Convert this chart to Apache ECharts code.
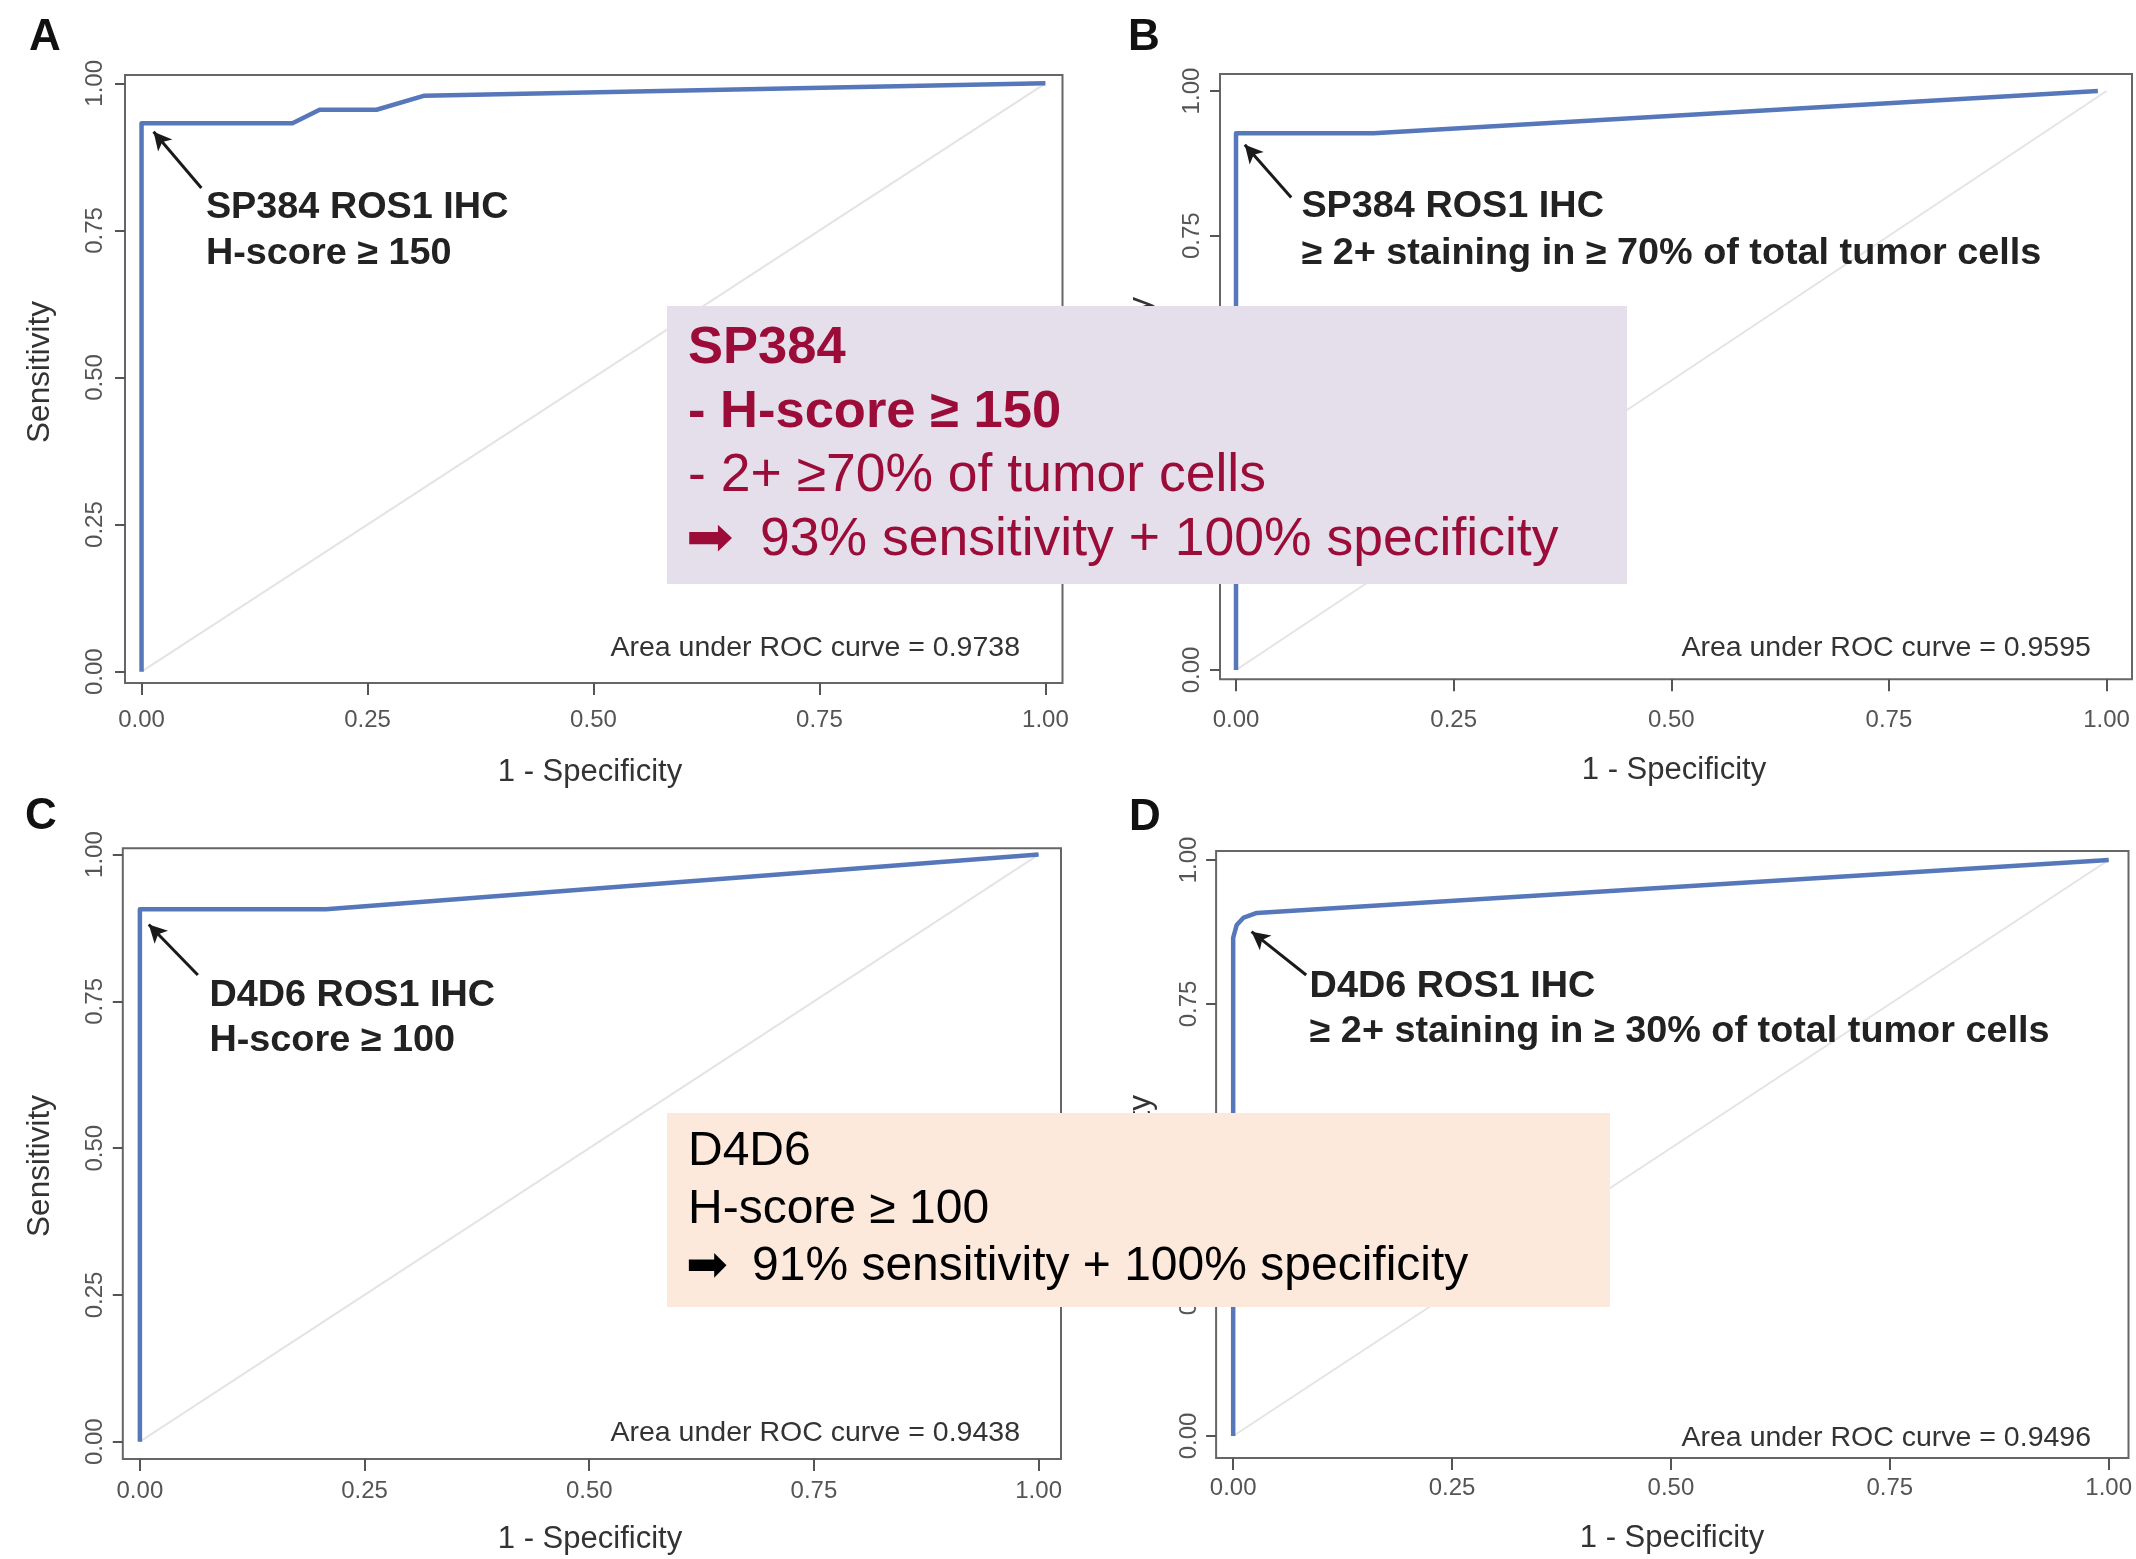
<!DOCTYPE html>
<html><head><meta charset="utf-8">
<script src="https://cdn.jsdelivr.net/npm/echarts@6/dist/echarts.min.js"></script>
<style>html,body{margin:0;padding:0;background:#fff}#c{width:2136px;height:1559px}</style>
</head><body><div id="c"></div>
<script>
// ---------- data ----------
const tickValues = [0, 0.25, 0.5, 0.75, 1];
const tickLabels = ['0.00', '0.25', '0.50', '0.75', '1.00'];
const panelLetters = ['A', 'B', 'C', 'D'];
const xTitle = '1 - Specificity';
const yTitle = 'Sensitivity';
const rocA = [[0, 0], [0, 0.932], [0.167, 0.932], [0.197, 0.955], [0.26, 0.955], [0.313, 0.979], [1, 1]];
const rocB = [[0, 0], [0, 0.927], [0.158, 0.927], [0.99, 1]];
const rocC = [[0, 0], [0, 0.907], [0.207, 0.907], [1, 1]];
const rocD = [[0, 0], [0, 0.865], [0.004, 0.887], [0.012, 0.9], [0.027, 0.908], [1, 1]];
const diagonal = [[0, 0], [1, 1]];
const aucValues = ['0.9738', '0.9595', '0.9438', '0.9496'];
const annotLine1 = ['SP384 ROS1 IHC', 'SP384 ROS1 IHC', 'D4D6 ROS1 IHC', 'D4D6 ROS1 IHC'];
const annotLine2 = ['H-score ≥ 150', '≥ 2+ staining in ≥ 70% of total tumor cells', 'H-score ≥ 100', '≥ 2+ staining in ≥ 30% of total tumor cells'];
const sp384Lines = ['SP384', '- H-score ≥ 150', '- 2+ ≥70% of tumor cells', '93% sensitivity + 100% specificity'];
const d4d6Lines = ['D4D6', 'H-score ≥ 100', '91% sensitivity + 100% specificity'];
const arrowGlyph = '➡';

// ---------- layout ----------
const rocs = [rocA, rocB, rocC, rocD];
const panels = [
  {box: [125, 75, 1062.5, 683], x: [-0.0183, 1.0189], y: [-0.0192, 1.0141], arrow: [[0.0662, 0.822], [0.0133, 0.9176]], text: [0.0712, 0.788, 0.710], auc: [0.9719, 0.0403], xm: 25, ym: 18, letter: [45, 38], xt: [590, 772], yt: [40, 372]},
  {box: [1220, 74, 2132, 679.3], x: [-0.0184, 1.0292], y: [-0.0161, 1.0294], arrow: [[0.0634, 0.816], [0.0101, 0.9073]], text: [0.0751, 0.8001, 0.718], auc: [0.982, 0.0384], xm: 29, ym: 16, letter: [1144, 38], xt: [1674, 770], yt: [1141, 368]},
  {box: [122.8, 848.2, 1061, 1459], x: [-0.019, 1.0249], y: [-0.0295, 1.0109], arrow: [[0.0645, 0.795], [0.0099, 0.881]], text: [0.0774, 0.7585, 0.682], auc: [0.9793, 0.0153], xm: 20, ym: 15, letter: [41, 817], xt: [590, 1539], yt: [40, 1166]},
  {box: [1216.1, 851, 2128.5, 1458], x: [-0.0195, 1.0226], y: [-0.0382, 1.0156], arrow: [[0.0834, 0.8003], [0.021, 0.8755]], text: [0.0873, 0.7788, 0.701], auc: [0.9798, -0.003], xm: 18, ym: 15, letter: [1145, 818], xt: [1672, 1538], yt: [1141, 1166]}
];
const FONT = '"Liberation Sans", Arial, Helvetica, sans-serif';
const CURVE = '#5678ba';
const AXIS = '#555';

const chart = echarts.init(document.getElementById('c'), null, {renderer: 'canvas'});
const grid = [], xAxis = [], yAxis = [], series = [];
const fmt = v => { const i = tickValues.indexOf(v); return i >= 0 ? tickLabels[i] : ''; };
panels.forEach((p, i) => {
  const [l, t, r, b] = p.box;
  grid.push({left: l, top: t, width: r - l, height: b - t, show: true, borderColor: '#666', borderWidth: 2, backgroundColor: 'transparent', containLabel: false, outerBoundsMode: 'none'});
  xAxis.push({type: 'value', gridIndex: i, min: p.x[0], max: p.x[1], position: 'bottom',
    axisLine: {show: false, onZero: false}, splitLine: {show: false},
    axisTick: {show: true, inside: false, customValues: tickValues, length: 12, lineStyle: {color: AXIS, width: 2}},
    axisLabel: {customValues: tickValues, formatter: fmt, margin: p.xm, fontSize: 24, color: '#555', fontFamily: FONT}});
  yAxis.push({type: 'value', gridIndex: i, min: p.y[0], max: p.y[1], position: 'left',
    axisLine: {show: false, onZero: false}, splitLine: {show: false},
    axisTick: {show: true, inside: false, customValues: tickValues, length: 10, lineStyle: {color: AXIS, width: 2}},
    axisLabel: {customValues: tickValues, formatter: fmt, rotate: 90, margin: p.ym, fontSize: 24, color: '#555', fontFamily: FONT}});
  series.push({type: 'line', xAxisIndex: i, yAxisIndex: i, data: diagonal, showSymbol: false, silent: true,
    lineStyle: {color: '#e4e4e4', width: 2}, z: 2});
  series.push({type: 'line', xAxisIndex: i, yAxisIndex: i, data: rocs[i], showSymbol: false, silent: true,
    lineStyle: {color: CURVE, width: 4.5, join: 'round'}, z: 3,
    markLine: {silent: true, animation: false, symbol: ['none', 'arrow'], symbolSize: 18,
      label: {show: false}, lineStyle: {color: '#1a1a1a', width: 3, type: 'solid'},
      data: [[{coord: p.arrow[0], symbol: 'none'}, {coord: p.arrow[1], symbol: 'arrow', symbolSize: [14, 18]}]]}});
});

chart.setOption({animation: false, backgroundColor: '#ffffff', grid, xAxis, yAxis, series});

// ---------- text graphics ----------
const g = [];
panels.forEach((p, i) => {
  g.push({type: 'text', x: p.letter[0], y: p.letter[1], style: {text: panelLetters[i], font: 'bold 44px ' + FONT, fill: '#111', align: 'center', verticalAlign: 'middle'}});
  g.push({type: 'text', x: p.xt[0], y: p.xt[1], style: {text: xTitle, font: '31px ' + FONT, fill: '#333', align: 'center', verticalAlign: 'middle'}});
  g.push({type: 'text', x: p.yt[0], y: p.yt[1], rotation: Math.PI / 2, style: {text: yTitle, font: '31.5px ' + FONT, fill: '#333', align: 'center', verticalAlign: 'middle'}});
  const t1 = chart.convertToPixel({gridIndex: i}, [p.text[0], p.text[1]]);
  const t2 = chart.convertToPixel({gridIndex: i}, [p.text[0], p.text[2]]);
  g.push({type: 'text', x: t1[0], y: t1[1], scaleX: 1.05, z: 10, style: {text: annotLine1[i], font: 'bold 36px ' + FONT, fill: '#222', align: 'left', verticalAlign: 'middle'}});
  g.push({type: 'text', x: t2[0], y: t2[1], scaleX: 1.05, z: 10, style: {text: annotLine2[i], font: 'bold 36px ' + FONT, fill: '#222', align: 'left', verticalAlign: 'middle'}});
  const a = chart.convertToPixel({gridIndex: i}, p.auc);
  g.push({type: 'text', x: a[0], y: a[1], z: 10, style: {text: 'Area under ROC curve = ' + aucValues[i], font: '28.5px ' + FONT, fill: '#333', align: 'right', verticalAlign: 'middle'}});
});
// SP384 overlay box
g.push({type: 'rect', z: 100, shape: {x: 667, y: 306, width: 960, height: 278}, style: {fill: '#e4dfeb'}});
const red = '#9b0d38';
const b1y = [349, 413, 476, 540];
sp384Lines.forEach((s, k) => {
  const bold = k < 2;
  g.push({type: 'text', z: 101, x: k === 3 ? 760 : 688, y: b1y[k], style: {text: s, font: (bold ? 'bold 52.5px ' : '53.5px ') + FONT, fill: red, align: 'left', verticalAlign: 'middle'}});
});
g.push({type: 'text', z: 101, x: 686, y: b1y[3] + 1, scaleX: 1.05, style: {text: arrowGlyph, font: '54px "DejaVu Sans", sans-serif', fill: red, align: 'left', verticalAlign: 'middle'}});
// D4D6 overlay box
g.push({type: 'rect', z: 100, shape: {x: 667, y: 1113, width: 943, height: 194}, style: {fill: '#fde8dc'}});
const b2y = [1152, 1210, 1267];
d4d6Lines.forEach((s, k) => {
  g.push({type: 'text', z: 101, x: k === 2 ? 752 : 688, y: b2y[k], style: {text: s, font: '48px ' + FONT, fill: '#000', align: 'left', verticalAlign: 'middle'}});
});
g.push({type: 'text', z: 101, x: 686, y: b2y[2] + 1, style: {text: arrowGlyph, font: '50px "DejaVu Sans", sans-serif', fill: '#000', align: 'left', verticalAlign: 'middle'}});

chart.setOption({graphic: g});
</script>
</body></html>
